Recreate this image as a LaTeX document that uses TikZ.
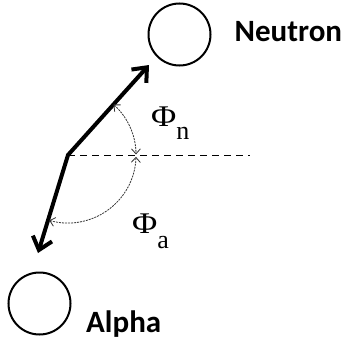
\documentclass[tikz,border=0pt]{standalone}
\usepackage{fontspec}
\setmainfont{Carlito}
\newfontfamily\phifont{Liberation Serif}
\usetikzlibrary{arrows.meta, positioning}

\begin{document}
\begin{tikzpicture}[
    x=1pt, y=1pt,
    particle/.style={
        draw, circle, line width=2pt, minimum size=62pt, inner sep=0pt
    },
    partname/.style={
        font=\fontsize{31}{31}\selectfont\bfseries, inner sep=0pt
    },
    track/.style={
        line width=4pt, line join=miter,
        {Straight Barb[length=12pt, width=20pt]}-{Straight Barb[length=12pt, width=20pt]}
    },
    refline/.style={line width=1pt, dash pattern=on 7pt off 5pt},
    anglearc/.style={
        line width=0.8pt, black!80, dash pattern=on 2pt off 1pt,
        {Straight Barb[length=5pt, width=9pt]}-{Straight Barb[length=5pt, width=9pt]}
    },
    anglelabel/.style={
        font=\phifont\fontsize{30}{30}\selectfont, inner sep=0pt, anchor=base west
    }
]
\useasboundingbox (0,0) rectangle (347,-340);

% === Particles ===
\node[particle] (neutron) at (179.5,-34.5) {};
\node[particle] (alpha) at (39.5,-303.5) {};

\node[partname, right=23pt of neutron, yshift=2.5pt] (neutronname) {Neutron};
\node[partname, anchor=base west] (alphaname) at ([xshift=14.5pt, yshift=-28.5pt]alpha.east) {Alpha};

% === Tracks from the vertex ===
\coordinate (vertex) at (68,-155);
\coordinate (ntip) at (149,-65);
\coordinate (atip) at (38,-253);
\coordinate (refend) at (250,-155);

\draw[refline] (vertex) -- (refend);
\draw[track] (atip) -- (vertex) -- (ntip);

% === Angles ===
\draw[anglearc] ([shift={(48:68)}]vertex) arc[start angle=48, end angle=0.5, radius=68];
\draw[anglearc] ([shift={(-1.5:68)}]vertex) arc[start angle=-1.5, end angle=-106, radius=68];

\node[anglelabel] (phin) at (151,-126)
    {\scalebox{1.15}[1]{Φ}\raisebox{-13pt}{\fontsize{26}{26}\selectfont n}};
\node[anglelabel] (phia) at (132,-233)
    {\scalebox{1.15}[1]{Φ}\raisebox{-15pt}{\fontsize{26}{26}\selectfont a}};

\end{tikzpicture}
\end{document}
